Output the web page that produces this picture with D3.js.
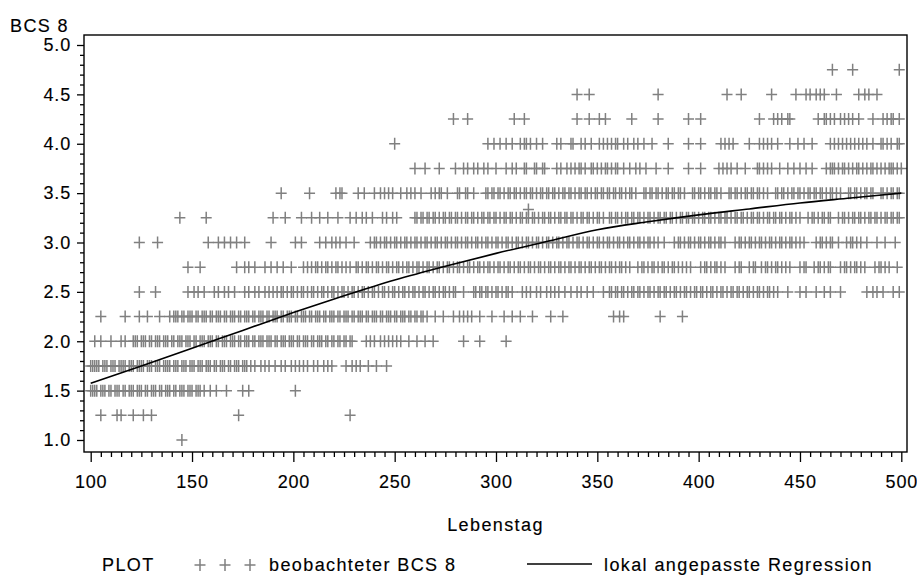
<!DOCTYPE html>
<html>
<head>
<meta charset="utf-8">
<script src="https://cdn.jsdelivr.net/npm/d3@7"></script>
<style>
  html, body { margin: 0; padding: 0; background: #fff; }
  svg { display: block; }
  text { font-family: "Liberation Sans", Arial, sans-serif; fill: #000; }
</style>
</head>
<body>
<svg id="chart" width="917" height="577"></svg>
<script>
// Observed BCS 8 scores by day of life (Lebenstag), one array per score level
const obs100 = [145];
const obs125 = [105, 113, 115, 121, 126, 130, 173, 228];
const obs150 = [100, 101, 102, 103, 105, 106, 107, 109, 110, 112, 113, 114, 116, 117, 119, 120, 121, 123, 124, 125, 127, 128, 130, 131, 132, 134, 135, 137, 138, 139, 141, 142, 144, 145, 146, 148, 149, 150, 152, 153, 154, 156, 159, 162, 167, 175, 178, 201];
const obs175 = [100, 101, 102, 103, 104, 106, 107, 108, 110, 111, 112, 114, 115, 116, 117, 119, 120, 121, 123, 124, 125, 126, 128, 129, 130, 132, 133, 134, 136, 137, 138, 139, 141, 142, 143, 145, 146, 147, 149, 150, 151, 153, 154, 155, 157, 158, 159, 161, 162, 164, 165, 166, 168, 169, 171, 172, 173, 175, 176, 177, 179, 181, 184, 186, 188, 191, 194, 196, 199, 201, 203, 205, 207, 210, 212, 215, 217, 219, 226, 229, 231, 233, 237, 241, 246];
const obs200 = [102, 105, 110, 115, 117, 121, 122, 123, 125, 126, 127, 129, 130, 132, 133, 134, 136, 137, 138, 140, 141, 143, 144, 145, 147, 148, 149, 151, 152, 154, 155, 156, 158, 159, 160, 162, 163, 165, 166, 167, 169, 170, 171, 173, 174, 176, 177, 178, 180, 181, 183, 184, 185, 187, 188, 189, 191, 192, 194, 195, 196, 198, 199, 200, 202, 203, 205, 206, 207, 209, 210, 212, 213, 214, 216, 217, 219, 220, 222, 223, 225, 226, 228, 229, 236, 238, 240, 243, 245, 247, 249, 251, 253, 257, 261, 265, 269, 284, 292, 305];
const obs225 = [105, 117, 124, 128, 134, 139, 141, 142, 143, 145, 146, 148, 149, 150, 152, 153, 155, 156, 157, 159, 160, 162, 163, 164, 166, 167, 169, 170, 171, 173, 174, 176, 177, 178, 180, 181, 183, 184, 185, 187, 188, 190, 191, 192, 194, 195, 197, 198, 199, 201, 202, 204, 205, 206, 208, 209, 211, 212, 213, 215, 216, 218, 219, 220, 222, 223, 225, 226, 227, 229, 230, 232, 233, 234, 236, 237, 239, 240, 241, 243, 244, 246, 247, 248, 250, 251, 253, 254, 255, 257, 258, 260, 261, 263, 264, 266, 270, 274, 279, 282, 284, 286, 288, 292, 298, 304, 308, 312, 318, 327, 333, 358, 361, 363, 381, 392];
const obs250 = [124, 132, 148, 151, 153, 156, 161, 163, 166, 168, 171, 176, 178, 181, 183, 186, 188, 190, 192, 194, 195, 197, 199, 200, 202, 204, 205, 207, 209, 210, 212, 214, 215, 217, 219, 220, 222, 224, 225, 227, 229, 230, 232, 234, 235, 237, 239, 240, 242, 244, 245, 247, 249, 250, 252, 254, 255, 257, 259, 260, 262, 264, 265, 267, 269, 270, 272, 274, 275, 277, 279, 280, 284, 289, 290, 292, 293, 295, 296, 298, 300, 301, 303, 305, 306, 308, 313, 315, 317, 320, 322, 325, 327, 329, 331, 334, 337, 340, 342, 345, 348, 353, 356, 357, 359, 360, 362, 363, 365, 367, 368, 370, 371, 373, 375, 376, 378, 380, 381, 383, 384, 386, 388, 389, 391, 393, 394, 396, 398, 399, 401, 402, 404, 406, 407, 409, 411, 412, 414, 416, 417, 419, 420, 422, 424, 425, 427, 429, 430, 432, 434, 435, 437, 439, 444, 450, 453, 458, 462, 465, 470, 483, 486, 488, 491, 496, 499];
const obs275 = [148, 154, 172, 176, 178, 181, 186, 189, 192, 195, 199, 205, 207, 209, 211, 212, 214, 216, 217, 219, 221, 222, 224, 226, 228, 231, 232, 234, 236, 237, 239, 241, 242, 244, 246, 247, 249, 251, 252, 254, 256, 257, 259, 261, 262, 264, 266, 267, 269, 271, 272, 274, 276, 277, 279, 281, 282, 284, 286, 287, 289, 291, 292, 294, 296, 297, 299, 301, 302, 304, 306, 307, 309, 311, 312, 314, 316, 317, 319, 321, 322, 324, 326, 327, 329, 331, 332, 334, 336, 337, 339, 341, 342, 344, 346, 347, 349, 351, 352, 354, 356, 357, 359, 361, 362, 364, 366, 370, 372, 373, 375, 377, 378, 380, 382, 383, 385, 387, 388, 390, 392, 394, 396, 401, 403, 404, 406, 408, 409, 411, 413, 418, 420, 421, 425, 427, 428, 431, 433, 434, 436, 438, 439, 441, 443, 445, 450, 452, 453, 457, 459, 460, 462, 464, 465, 470, 472, 473, 475, 477, 478, 480, 482, 487, 489, 490, 492, 494, 498];
const obs300 = [124, 133, 158, 163, 166, 169, 172, 176, 189, 201, 204, 213, 216, 219, 221, 223, 226, 230, 238, 240, 241, 243, 245, 246, 248, 250, 251, 253, 255, 256, 258, 260, 261, 263, 265, 266, 268, 270, 271, 273, 275, 276, 278, 280, 281, 283, 285, 286, 288, 290, 291, 293, 295, 296, 298, 300, 301, 303, 305, 306, 308, 310, 311, 313, 315, 316, 318, 320, 321, 323, 325, 326, 328, 330, 331, 333, 335, 336, 338, 340, 341, 343, 345, 346, 348, 350, 351, 353, 355, 356, 358, 360, 361, 363, 365, 366, 368, 370, 371, 373, 375, 376, 378, 380, 383, 388, 390, 391, 393, 395, 396, 398, 400, 401, 403, 405, 406, 408, 410, 411, 413, 418, 420, 421, 423, 425, 426, 428, 430, 431, 433, 435, 436, 438, 440, 441, 443, 445, 446, 448, 450, 452, 458, 460, 461, 463, 465, 466, 469, 473, 475, 476, 478, 480, 483, 488, 492, 497];
const obs325 = [144, 157, 190, 196, 204, 209, 213, 217, 222, 228, 231, 234, 236, 239, 244, 246, 249, 251, 260, 261, 263, 264, 266, 267, 269, 270, 272, 274, 275, 277, 278, 280, 281, 283, 285, 286, 288, 289, 291, 293, 294, 296, 297, 299, 300, 302, 304, 305, 307, 308, 310, 312, 313, 315, 316, 318, 319, 321, 323, 324, 326, 327, 329, 331, 332, 334, 335, 337, 338, 340, 342, 343, 345, 346, 348, 350, 351, 353, 356, 357, 359, 360, 362, 364, 365, 367, 368, 370, 371, 373, 375, 376, 378, 380, 381, 383, 384, 386, 387, 389, 391, 392, 394, 395, 397, 398, 400, 402, 403, 405, 406, 408, 410, 411, 413, 414, 416, 418, 419, 421, 422, 424, 426, 427, 429, 430, 432, 434, 435, 437, 438, 440, 441, 443, 445, 446, 448, 450, 454, 456, 457, 459, 461, 462, 464, 465, 469, 471, 472, 474, 476, 477, 479, 480, 482, 484, 485, 487, 488, 490, 492, 493, 495, 496, 498, 499];
const obs333 = [316];
const obs350 = [194, 208, 221, 223, 224, 232, 235, 240, 243, 245, 247, 249, 253, 256, 258, 260, 263, 268, 270, 272, 273, 276, 281, 282, 285, 286, 289, 295, 296, 298, 299, 301, 302, 304, 306, 307, 309, 310, 312, 314, 315, 317, 318, 320, 322, 323, 325, 326, 328, 329, 331, 333, 334, 336, 337, 339, 341, 342, 344, 345, 347, 349, 350, 352, 353, 355, 356, 358, 359, 361, 362, 364, 366, 367, 369, 373, 374, 376, 377, 379, 380, 382, 384, 385, 387, 388, 390, 391, 393, 397, 398, 400, 401, 403, 405, 406, 408, 409, 411, 415, 416, 418, 419, 421, 423, 424, 426, 427, 429, 430, 432, 434, 438, 439, 441, 442, 444, 446, 447, 449, 450, 452, 454, 455, 457, 458, 460, 461, 463, 465, 466, 468, 470, 474, 475, 477, 478, 480, 482, 483, 485, 486, 490, 491, 493, 495, 496, 498, 499];
const obs375 = [260, 265, 272, 280, 284, 286, 289, 291, 294, 296, 300, 305, 308, 310, 314, 315, 319, 320, 323, 324, 330, 332, 335, 337, 339, 341, 342, 344, 347, 348, 350, 352, 354, 355, 357, 359, 360, 363, 366, 369, 371, 374, 379, 385, 395, 401, 410, 412, 414, 416, 419, 423, 429, 430, 432, 434, 436, 440, 444, 447, 450, 453, 456, 463, 465, 466, 467, 469, 471, 472, 474, 476, 478, 479, 481, 483, 485, 486, 488, 490, 492, 494, 495, 496, 498, 500];
const obs400 = [250, 296, 299, 302, 305, 308, 312, 314, 315, 317, 320, 323, 330, 332, 337, 338, 342, 344, 347, 351, 353, 355, 357, 359, 360, 363, 365, 368, 370, 373, 377, 385, 395, 401, 411, 413, 415, 417, 425, 430, 432, 434, 436, 439, 445, 449, 452, 456, 465, 467, 469, 471, 473, 475, 477, 479, 481, 483, 486, 490, 491, 493, 495, 498, 499];
const obs425 = [279, 286, 309, 314, 340, 346, 351, 354, 367, 380, 395, 401, 430, 437, 439, 441, 444, 445, 459, 462, 463, 465, 467, 470, 472, 474, 476, 479, 486, 491, 493, 495, 496, 499];
const obs450 = [340, 346, 380, 414, 421, 436, 448, 453, 455, 458, 460, 462, 468, 479, 482, 484, 488];
const obs475 = [466, 476, 499];

// Locally fitted regression (loess) curve
const fitDays = [100, 125, 150, 175, 200, 225, 250, 275, 300, 325, 350, 375, 400, 425, 450, 475, 500];
const fitBcs  = [1.575, 1.75, 1.93, 2.11, 2.29, 2.46, 2.62, 2.76, 2.89, 3.01, 3.13, 3.21, 3.28, 3.34, 3.40, 3.45, 3.50];

// Axis ticks
const xMajor = [100, 150, 200, 250, 300, 350, 400, 450, 500];
const yMajor = [1.0, 1.5, 2.0, 2.5, 3.0, 3.5, 4.0, 4.5, 5.0];

const levels = [
  [1.0, obs100], [1.25, obs125], [1.5, obs150], [1.75, obs175], [2.0, obs200],
  [2.25, obs225], [2.5, obs250], [2.75, obs275], [3.0, obs300], [3.25, obs325],
  [3.333, obs333], [3.5, obs350], [3.75, obs375], [4.0, obs400], [4.25, obs425],
  [4.5, obs450], [4.75, obs475]
];
const points = [];
levels.forEach(([v, days]) => days.forEach(d => points.push({ day: d, bcs: v })));

const svg = d3.select("#chart");
const frame = { left: 84, right: 907, top: 35, bottom: 452 };

const x = d3.scaleLinear().domain([100, 500]).range([90.7, 901.3]);
const y = d3.scaleLinear().domain([1, 5]).range([440, 45]);

const FONT = 18;
const LS = "1.4px";
const GREY = "#808080";

// clip so that markers stay inside the frame
svg.append("defs").append("clipPath").attr("id", "plotclip")
  .append("rect").attr("x", frame.left).attr("y", frame.top)
  .attr("width", frame.right - frame.left).attr("height", frame.bottom - frame.top);

const plus = "M-5.5,0H5.5M0,-6V6";

svg.append("g").attr("clip-path", "url(#plotclip)")
  .selectAll("path").data(points).join("path")
  .attr("d", plus)
  .attr("transform", d => `translate(${x(d.day)},${y(d.bcs)})`)
  .attr("stroke", GREY).attr("stroke-width", 1.5).attr("fill", "none");

// regression curve
const line = d3.line().x(d => x(d[0])).y(d => y(d[1])).curve(d3.curveMonotoneX);
svg.append("path")
  .datum(fitDays.map((d, i) => [d, fitBcs[i]]))
  .attr("d", line).attr("fill", "none").attr("stroke", "#000").attr("stroke-width", 1.6);

// frame
svg.append("rect")
  .attr("x", frame.left).attr("y", frame.top)
  .attr("width", frame.right - frame.left).attr("height", frame.bottom - frame.top)
  .attr("fill", "none").attr("stroke", "#000").attr("stroke-width", 1.4);

// y axis: major and minor ticks
const yMinor = d3.range(10, 51).map(v => v / 10).filter(v => !yMajor.some(m => Math.abs(m - v) < 1e-9));
const yAxis = svg.append("g").attr("transform", `translate(${frame.left},0)`);
yAxis.call(d3.axisLeft(y).tickValues(yMajor).tickSize(7).tickPadding(6).tickFormat(d3.format(".1f")));
yAxis.append("g").call(d3.axisLeft(y).tickValues(yMinor).tickSize(4).tickFormat(""));
yAxis.selectAll(".domain").remove();

// x axis: major and minor ticks
const xMinor = d3.range(100, 501, 5).filter(v => v % 50 !== 0);
const xAxis = svg.append("g").attr("transform", `translate(0,${frame.bottom})`);
xAxis.call(d3.axisBottom(x).tickValues(xMajor).tickSize(10).tickPadding(13).tickFormat(d3.format("d")));
xAxis.append("g").call(d3.axisBottom(x).tickValues(xMinor).tickSize(5).tickFormat(""));
xAxis.selectAll(".domain").remove();

svg.selectAll(".tick line").attr("stroke", "#000").attr("stroke-width", 1.3);
svg.selectAll(".tick text")
  .style("font-family", '"Liberation Sans", Arial, sans-serif')
  .style("font-size", FONT + "px").style("letter-spacing", "0.8px")
  .attr("fill", "#000").attr("stroke", "#000").attr("stroke-width", 0.15);

// axis titles
function label(sel) {
  return sel.style("font-size", FONT + "px").style("letter-spacing", LS)
    .attr("stroke", "#000").attr("stroke-width", 0.15);
}
label(svg.append("text").attr("x", 10).attr("y", 32)).text("BCS 8");
label(svg.append("text").attr("x", (frame.left + frame.right) / 2).attr("y", 531)
  .attr("text-anchor", "middle")).text("Lebenstag");

// legend
const legY = 565;
const leg = svg.append("g");
label(leg.append("text").attr("x", 102).attr("y", 571)).text("PLOT");
leg.selectAll("path.sym").data([200, 225, 250]).join("path").attr("class", "sym")
  .attr("d", plus).attr("transform", d => `translate(${d},${legY})`)
  .attr("stroke", GREY).attr("stroke-width", 1.5).attr("fill", "none");
label(leg.append("text").attr("x", 269).attr("y", 571)).text("beobachteter BCS 8");
leg.append("line").attr("x1", 527).attr("x2", 592).attr("y1", 564).attr("y2", 564)
  .attr("stroke", "#000").attr("stroke-width", 1.6);
label(leg.append("text").attr("x", 604).attr("y", 571)).text("lokal angepasste Regression");
</script>
</body>
</html>
